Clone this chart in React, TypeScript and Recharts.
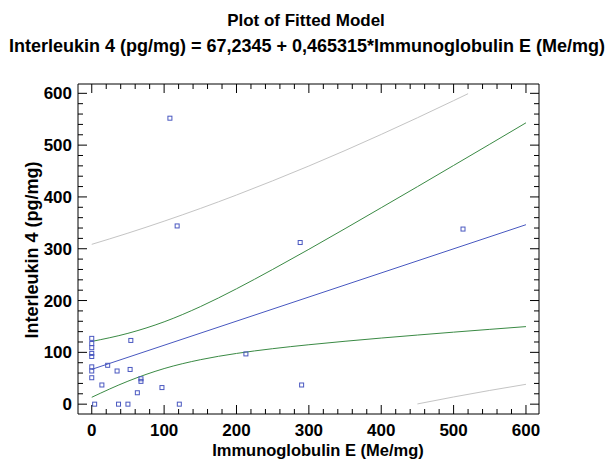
import React from 'react';
import { ComposedChart, Line, Scatter, XAxis, YAxis } from 'recharts';

// Observed data points
const pointX = [0, 0, 0, 0, 0, 0, 0, 0, 4, 14, 22, 35, 37, 50, 53, 54, 63, 68, 68, 97, 108, 118, 121, 213, 288, 290, 513];
const pointY = [127, 117, 109, 98, 92, 72, 64, 51, 0, 37, 75, 64, 0, 0, 67, 123, 22, 49, 44, 32, 552, 344, 0, 97, 312, 37, 338];

// Fitted line
const fitX = [0, 600];
const fitY = [67.2, 346.4];

// Confidence limits (green)
const bandX = [0, 50, 100, 150, 200, 250, 300, 350, 400, 450, 500, 550, 600];
const ciUpper = [121.1, 136.7, 158.9, 188.2, 222.7, 260.1, 298.9, 338.8, 379.2, 419.8, 460.8, 501.8, 543.1];
const ciLower = [13.3, 44.3, 68.7, 85.8, 97.9, 107.1, 114.7, 121.4, 127.6, 133.4, 139.0, 144.4, 149.7];

// Prediction limits (gray)
const piUpperX = [0, 50, 100, 150, 200, 250, 300, 350, 400, 450, 500, 520];
const piUpperY = [308.5, 330.1, 353.2, 377.7, 403.7, 431.1, 459.7, 489.6, 520.7, 552.8, 585.9, 599.3];
const piLowerX = [450, 500, 550, 600];
const piLowerY = [0.4, 13.9, 26.5, 38.3];

// Axis ticks
const axisTicks = [0, 20, 40, 60, 80, 100, 120, 140, 160, 180, 200, 220, 240, 260, 280, 300, 320, 340, 360, 380, 400, 420, 440, 460, 480, 500, 520, 540, 560, 580, 600];
const majorStep = 100;

const TITLE = 'Plot of Fitted Model';
const SUBTITLE = 'Interleukin 4 (pg/mg) = 67,2345 + 0,465315*Immunoglobulin E (Me/mg)';
const X_LABEL = 'Immunoglobulin E (Me/mg)';
const Y_LABEL = 'Interleukin 4 (pg/mg)';

const zip = (xs: number[], ys: number[]) => xs.map((x, i) => ({ x, y: ys[i] }));

const points = zip(pointX, pointY);
const fitData = zip(fitX, fitY);
const ciUpperData = zip(bandX, ciUpper);
const ciLowerData = zip(bandX, ciLower);
const piUpperData = zip(piUpperX, piUpperY);
const piLowerData = zip(piLowerX, piLowerY);

const FONT = '"Liberation Sans", Arial, Helvetica, sans-serif';
const MAJOR = 9;
const MINOR = 5;
const isMajor = (v: number) => v % majorStep === 0;

const BottomTick = (props: any) => {
  const { x, y, payload } = props;
  const v = payload.value;
  return (
    <g>
      <line x1={x} y1={y} x2={x} y2={y - (isMajor(v) ? MAJOR : MINOR)} stroke="#000" strokeWidth={1} />
      {isMajor(v) && (
        <text x={x} y={y + 22} textAnchor="middle" fontFamily={FONT} fontWeight="bold" fontSize={17} fill="#000">
          {v}
        </text>
      )}
    </g>
  );
};

const TopTick = (props: any) => {
  const { x, y, payload } = props;
  const v = payload.value;
  return <line x1={x} y1={y} x2={x} y2={y + (isMajor(v) ? MAJOR : MINOR)} stroke="#000" strokeWidth={1} />;
};

const LeftTick = (props: any) => {
  const { x, y, payload } = props;
  const v = payload.value;
  return (
    <g>
      <line x1={x} y1={y} x2={x + (isMajor(v) ? MAJOR : MINOR)} y2={y} stroke="#000" strokeWidth={1} />
      {isMajor(v) && (
        <text x={x - 6} y={y + 6} textAnchor="end" fontFamily={FONT} fontWeight="bold" fontSize={17} fill="#000">
          {v}
        </text>
      )}
    </g>
  );
};

const RightTick = (props: any) => {
  const { x, y, payload } = props;
  const v = payload.value;
  return <line x1={x} y1={y} x2={x - (isMajor(v) ? MAJOR : MINOR)} y2={y} stroke="#000" strokeWidth={1} />;
};

const SquareMarker = (props: any) => {
  const { cx, cy } = props;
  return <rect x={cx - 2} y={cy - 2} width={4} height={4} fill="none" stroke="#4a58c0" strokeWidth={1} />;
};

const DOMAIN: [number, number] = [-19, 618];

export default function App() {
  return (
    <div style={{ position: 'absolute', left: 0, top: 0, width: 606, height: 462, background: '#fff', fontFamily: FONT }}>
      <div style={{ position: 'absolute', left: 0, width: 612, top: 11, textAlign: 'center', fontWeight: 'bold', fontSize: 17, lineHeight: '20px', whiteSpace: 'nowrap' }}>
        {TITLE}
      </div>
      <div style={{ position: 'absolute', left: 0, width: 614, top: 36, textAlign: 'center', fontWeight: 'bold', fontSize: 18, lineHeight: '20px', whiteSpace: 'nowrap' }}>
        {SUBTITLE}
      </div>
      <div style={{ position: 'absolute', left: 318, top: 450, transform: 'translate(-50%, -50%)', fontWeight: 'bold', fontSize: 16.5, whiteSpace: 'nowrap' }}>
        {X_LABEL}
      </div>
      <div style={{ position: 'absolute', left: 32, top: 250, transform: 'translate(-50%, -50%) rotate(-90deg)', fontWeight: 'bold', fontSize: 18, whiteSpace: 'nowrap' }}>
        {Y_LABEL}
      </div>
      <ComposedChart width={606} height={462} margin={{ top: 83, right: 66, bottom: 47, left: 77 }} style={{ position: 'absolute', left: 0, top: 0 }}>
        <XAxis xAxisId={0} dataKey="x" type="number" domain={DOMAIN} allowDataOverflow ticks={axisTicks} interval={0} height={1} tickSize={0} tickMargin={0} tickLine={false} tick={<BottomTick />} axisLine={{ stroke: '#000', strokeWidth: 1 }} orientation="bottom" />
        <XAxis xAxisId="top" dataKey="x" type="number" domain={DOMAIN} allowDataOverflow ticks={axisTicks} interval={0} height={1} tickSize={0} tickMargin={0} tickLine={false} tick={<TopTick />} axisLine={{ stroke: '#000', strokeWidth: 1 }} orientation="top" />
        <YAxis yAxisId={0} type="number" domain={DOMAIN} allowDataOverflow ticks={axisTicks} interval={0} width={1} tickSize={0} tickMargin={0} tickLine={false} tick={<LeftTick />} axisLine={{ stroke: '#000', strokeWidth: 1 }} orientation="left" />
        <YAxis yAxisId="right" type="number" domain={DOMAIN} allowDataOverflow ticks={axisTicks} interval={0} width={1} tickSize={0} tickMargin={0} tickLine={false} tick={<RightTick />} axisLine={{ stroke: '#000', strokeWidth: 1 }} orientation="right" />
        <Line data={piUpperData} dataKey="y" type="monotone" stroke="#c4c4c4" strokeWidth={1} dot={false} isAnimationActive={false} />
        <Line data={piLowerData} dataKey="y" type="monotone" stroke="#c4c4c4" strokeWidth={1} dot={false} isAnimationActive={false} />
        <Line data={ciUpperData} dataKey="y" type="monotone" stroke="#3a8a44" strokeWidth={1} dot={false} isAnimationActive={false} />
        <Line data={ciLowerData} dataKey="y" type="monotone" stroke="#3a8a44" strokeWidth={1} dot={false} isAnimationActive={false} />
        <Line data={fitData} dataKey="y" type="linear" stroke="#4858c0" strokeWidth={1} dot={false} isAnimationActive={false} />
        <Scatter data={points} dataKey="y" shape={<SquareMarker />} isAnimationActive={false} />
      </ComposedChart>
    </div>
  );
}
